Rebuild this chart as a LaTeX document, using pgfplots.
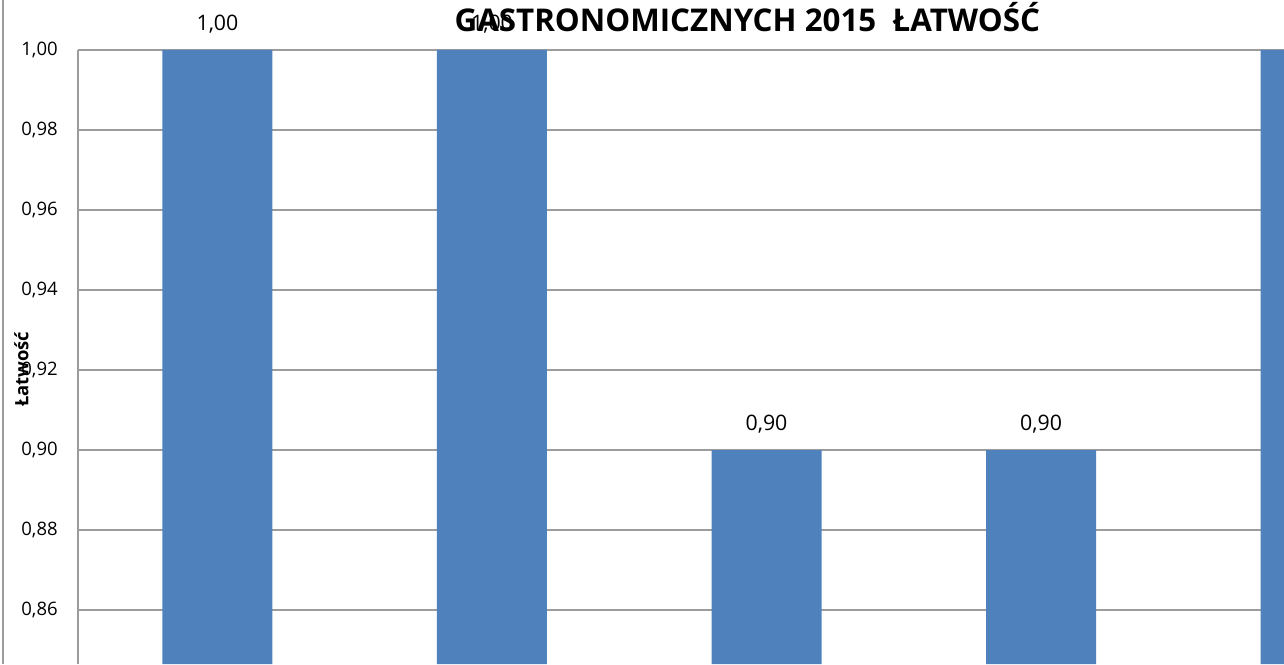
\documentclass[border=0pt]{standalone}
\usepackage{pgfplots}
\pgfplotsset{compat=1.18}
\usepackage{fontspec}
\setmainfont{Open Sans}
\definecolor{barblue}{HTML}{4F81BD}
\definecolor{gridgray}{HTML}{9C9C9C}
\begin{document}
\begin{tikzpicture}
\begin{axis}[
    scale only axis,
    width=904.5pt, height=460.5pt,
    ybar, bar width=82.5pt,
    xmin=-0.508, xmax=3.885,
    ymin=0.8465, ymax=1.0,
    ytick={0.86,0.88,0.90,0.92,0.94,0.96,0.98,1.00},
    xtick=\empty,
    axis x line=none,
    axis y line*=left,
    y axis line style={gridgray, line width=1.2pt, -},
    major tick length=0pt,
    ymajorgrids=true,
    grid style={gridgray, line width=1.2pt},
    yticklabel style={font=\fontsize{13.9}{16}\selectfont, inner sep=0pt, xshift=-15pt},
    ylabel={Łatwość},
    every axis y label/.style={at={([xshift=-42.5pt]rel axis cs:0,0.48)},
        rotate=90, anchor=center, font=\bfseries\fontsize{13.8}{16}\selectfont},
    title={GASTRONOMICZNYCH 2015\ \ ŁATWOŚĆ},
    title style={at={(rel axis cs:0.555,1)}, anchor=base, yshift=7.5pt,
        font=\bfseries\fontsize{23.5}{28}\selectfont},
    nodes near coords,
    every node near coord/.append style={font=\fontsize{16}{19}\selectfont,
        anchor=base, yshift=14.25pt, black},
    /pgf/number format/use comma,
    /pgf/number format/fixed,
    /pgf/number format/fixed zerofill,
    /pgf/number format/precision=2,
    /pgf/number format/assume math mode=true,
]
\addplot[fill=barblue, draw=none] coordinates {(0,1.00) (1,1.00) (2,0.90) (3,0.90) (4,1.00)};
\end{axis}
\draw[gridgray, line width=1.5pt] ([xshift=-56.6pt]current axis.south west) -- ++(0,498pt);
\pgfresetboundingbox
\useasboundingbox ([xshift=-58.5pt]current axis.south west) rectangle ([yshift=37.5pt]current axis.north east);
\end{tikzpicture}
\end{document}
